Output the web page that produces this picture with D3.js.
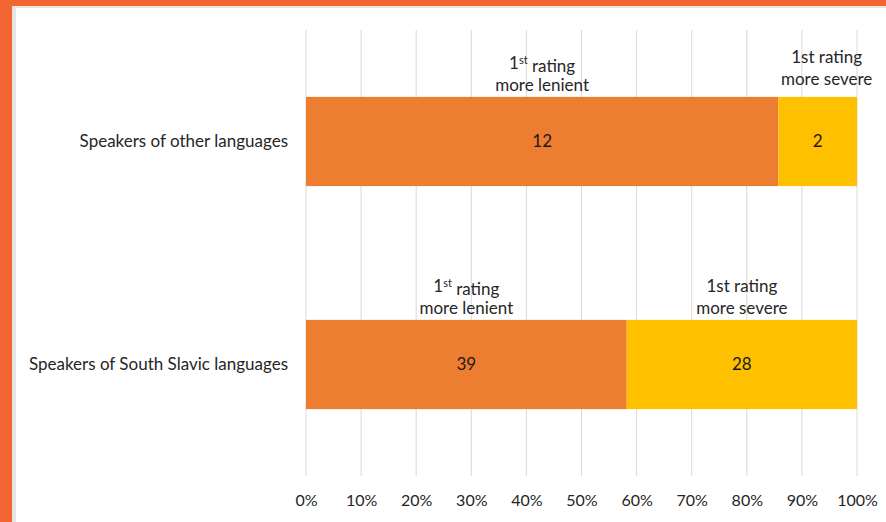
<!DOCTYPE html>
<html>
<head>
<meta charset="utf-8">
<script src="https://cdn.jsdelivr.net/npm/d3@7"></script>
<style>
  html, body { margin: 0; padding: 0; background: #fff; }
  svg { display: block; }
  text { font-family: "Lato", "Open Sans", sans-serif; fill: #262626; }
</style>
</head>
<body>
<svg id="chart" width="886" height="522"></svg>
<script>
// Groups of raters and count of cases where the first rating differed
const groups = ["Speakers of other languages", "Speakers of South Slavic languages"];
const lenient = [12, 39];
const severe = [2, 28];
const segmentLabels = [
  ["1<st> rating", "more lenient"],
  ["1st rating", "more severe"]
];
const tickValues = [0, 0.1, 0.2, 0.3, 0.4, 0.5, 0.6, 0.7, 0.8, 0.9, 1];

const colors = { lenient: "#ED7D31", severe: "#FFC000" };

const W = 886, H = 522;
const margin = { left: 306, right: 29 };
const FS = "17px";
const svg = d3.select("#chart");

// Framing border
svg.append("rect").attr("x", 0).attr("y", 0).attr("width", W).attr("height", H).attr("fill", "#F26633");
svg.append("rect").attr("x", 12).attr("y", 6).attr("width", W - 12).attr("height", H - 6).attr("fill", "#E6E6E6");
svg.append("rect").attr("x", 16).attr("y", 8).attr("width", W - 16).attr("height", H - 8).attr("fill", "#FFFFFF");

const x = d3.scaleLinear().domain([0, 1]).range([margin.left, W - margin.right]);
const y = d3.scaleBand().domain(groups).range([30, 476]).paddingInner(0.6).paddingOuter(0.3);

// Vertical gridlines
svg.append("g").selectAll("line").data(tickValues).join("line")
  .attr("x1", d => x(d)).attr("x2", d => x(d))
  .attr("y1", 30).attr("y2", 476)
  .attr("stroke", "#D9D9D9").attr("stroke-width", 1);

// Percentage axis
const axis = d3.axisBottom(x).tickValues(tickValues).tickFormat(d3.format(".0%")).tickSize(0).tickPadding(0);
const ax = svg.append("g").attr("transform", "translate(0,495)").call(axis);
ax.select(".domain").remove();
ax.selectAll("text").attr("dy", "0.7em").style("font-size", "16px").style("font-family", "Lato, sans-serif").attr("fill", "#262626");

// Stacked 100% bars
const rows = groups.map((g, i) => {
  const total = lenient[i] + severe[i];
  return [
    { g, i, key: "lenient", v: lenient[i], x0: 0, x1: lenient[i] / total },
    { g, i, key: "severe", v: severe[i], x0: lenient[i] / total, x1: 1 }
  ];
}).flat();

svg.append("g").selectAll("rect").data(rows).join("rect")
  .attr("x", d => x(d.x0))
  .attr("y", d => y(d.g))
  .attr("width", d => x(d.x1) - x(d.x0))
  .attr("height", y.bandwidth())
  .attr("fill", d => colors[d.key]);

// Values inside the segments
svg.append("g").selectAll("text").data(rows).join("text")
  .attr("x", d => (x(d.x0) + x(d.x1)) / 2)
  .attr("y", d => y(d.g) + y.bandwidth() / 2)
  .attr("dy", "0.35em")
  .attr("text-anchor", "middle")
  .style("font-size", FS)
  .style("fill", "#1a1a1a")
  .text(d => d.v);

// Segment captions above each bar (the narrow top-right one is nudged up and right)
rows.forEach(d => {
  const lines = segmentLabels[d.key === "lenient" ? 0 : 1];
  const narrow = d.i === 0 && d.key === "severe";
  const cx = (x(d.x0) + x(d.x1)) / 2 + (narrow ? 9 : 0);
  const top = y(d.g) - (narrow ? 6 : 0);
  lines.forEach((ln, j) => {
    const t = svg.append("text")
      .attr("x", cx)
      .attr("y", top - 28 + j * 22)
      .attr("text-anchor", "middle")
      .style("font-size", FS);
    const m = ln.match(/^(.*)<(.*)>(.*)$/);
    if (m) {
      t.append("tspan").text(m[1]);
      t.append("tspan").attr("dy", "-0.45em").style("font-size", "11px").text(m[2]);
      t.append("tspan").attr("dy", "0.45em").text(m[3]);
    } else {
      t.text(ln);
    }
  });
});

// Category labels
svg.append("g").selectAll("text").data(groups).join("text")
  .attr("x", 288)
  .attr("y", d => y(d) + y.bandwidth() / 2)
  .attr("dy", "0.35em")
  .attr("text-anchor", "end")
  .style("font-size", FS)
  .text(d => d);
</script>
</body>
</html>
